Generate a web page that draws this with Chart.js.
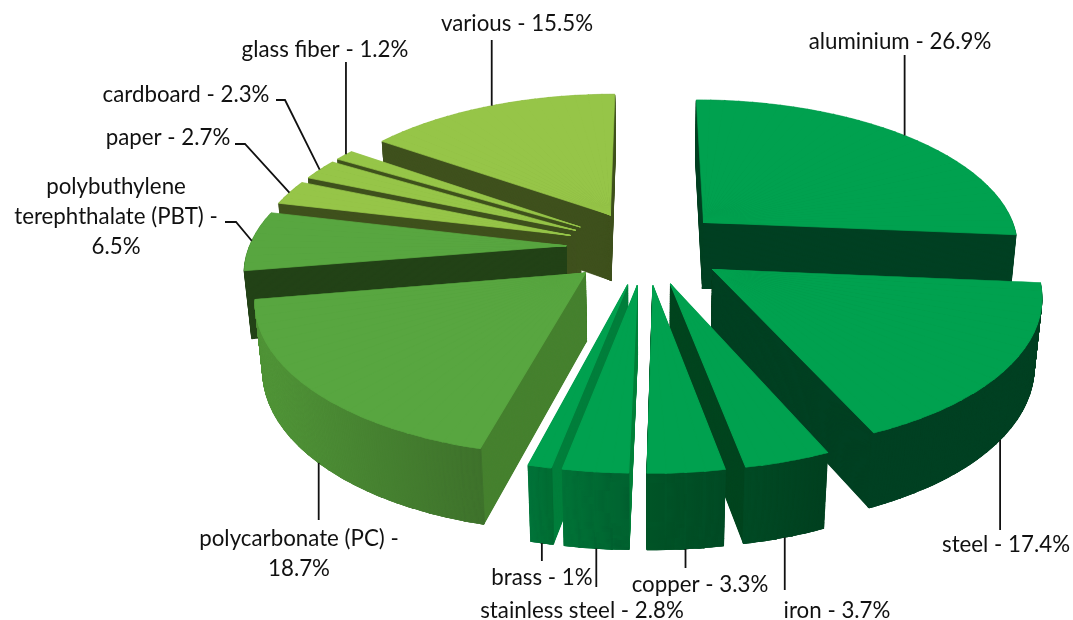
<!DOCTYPE html>
<html>
<head>
<meta charset="utf-8">
<style>
  html, body { margin: 0; padding: 0; background: #fff; }
  #wrap { width: 1073px; height: 620px; }
</style>
</head>
<body>
<div id="wrap"><canvas id="chart" width="1073" height="620"></canvas></div>
<script src="https://cdn.jsdelivr.net/npm/chart.js@4"></script>
<script>
const categories = ['aluminium', 'steel', 'iron', 'copper', 'stainless steel', 'brass', 'polycarbonate (PC)', 'polybuthylene terephthalate (PBT)', 'paper', 'cardboard', 'glass fiber', 'various'];
const shares = [26.9, 17.4, 3.7, 3.3, 2.8, 1, 18.7, 6.5, 2.7, 2.3, 1.2, 15.5];

const topColors = ['#00a14f', '#00a14f', '#00a14f', '#00a14f', '#00a14f', '#00a14f', '#58a640', '#58a640', '#96c548', '#96c548', '#96c548', '#96c548'];
const cutColors = ['#004022', '#004022', '#00451f', '#00451f', '#00803c', '#007f3c', '#46812f', '#234217', '#3f511d', '#3f511d', '#3f511d', '#3f511d'];
const rimLeft = ['#004022', '#004022', '#004b25', '#005829', '#006e35', '#007038', '#56a03c', '#234217', '#3f511d', '#3f511d', '#3f511d', '#3f511d'];
const rimRight = ['#004022', '#004022', '#003e1f', '#004b25', '#00592c', '#00672f', '#3c6e2a', '#234217', '#3f511d', '#3f511d', '#3f511d', '#3f511d'];

// label text lines, centre of the block, first line y
const labelLines = [
  ['aluminium - 26.9%'], ['steel - 17.4%'], ['iron - 3.7%'], ['copper - 3.3%'], ['stainless steel - 2.8%'], ['brass - 1%'],
  ['polycarbonate (PC) -', '18.7%'], ['polybuthylene', 'terephthalate (PBT) -', '6.5%'], ['paper - 2.7%'], ['cardboard - 2.3%'], ['glass fiber - 1.2%'], ['various - 15.5%']
];
const labelX = [900, 1006, 837, 700, 582, 542, 299, 116, 168, 186, 325, 517];
const labelY = [42, 545, 611, 585, 611, 578, 539, 187, 138, 95, 50, 24];
// leader lines start on the slice rim; a null x keeps them vertical
const leaderPaths = [
  [[null, 55]], [[null, 530]], [[null, 590]], [[null, 568]], [[null, 587]], [[null, 561]], [[null, 520]],
  [[236, 222], [225, 222]], [[245, 144], [235, 144]], [[285, 100], [276, 100]], [[null, 62]], [[null, 40]]
];
// where along the rim of its slice a leader starts
const leaderAt = [0.496, 0.5, 0.5, 0.5, 0.5, 0.5, 0.5, 0.5, 0.5, 0.5, 0.62, 0.51];

// camera that looks at the pie from above
const camera = { x: 646, y: 247, sin: 0.465, cos: 0.885, dist: 1900 };
const pieHeight = 77;
const pieRadius = 317;
const explode = 320; // chart.js moves a slice by offset / 4
const wedgeStep = 3 * Math.PI / 180;

function project(x, y, z) {
  const s = camera.dist / (camera.dist - (y * camera.cos + z * camera.sin));
  return { x: camera.x + x * s, y: camera.y + (y * camera.sin - z * camera.cos) * s };
}

// draws the part a1..a2 of one slice on the plane at height z
function drawWedge(ctx, arc, a1, a2, z, color, inner) {
  const mid = (arc.startAngle + arc.endAngle) / 2;
  const move = arc.options.offset / 4;
  const tipX = Math.cos(mid) * move;
  const tipY = Math.sin(mid) * move;
  const R = arc.outerRadius;
  const dx1 = Math.cos(a1) * R, dy1 = Math.sin(a1) * R;
  const dx2 = Math.cos(a2) * R, dy2 = Math.sin(a2) * R;
  const t0 = project(tipX, tipY, z);
  const t1 = project(tipX + dx1, tipY + dy1, z);
  const t2 = project(tipX + dx2, tipY + dy2, z);
  const det = dx1 * dy2 - dx2 * dy1;
  const ax = ((t1.x - t0.x) * dy2 - (t2.x - t0.x) * dy1) / det;
  const cx = ((t2.x - t0.x) * dx1 - (t1.x - t0.x) * dx2) / det;
  const bx = ((t1.y - t0.y) * dy2 - (t2.y - t0.y) * dy1) / det;
  const dx = ((t2.y - t0.y) * dx1 - (t1.y - t0.y) * dx2) / det;

  const piece = Object.create(arc);
  piece.startAngle = a1;
  piece.endAngle = a2;
  piece.circumference = a2 - a1;
  piece.innerRadius = inner;
  // the thin border closes the seams between neighbouring wedges
  piece.options = Object.assign({}, arc.options, { offset: 0, backgroundColor: color, borderColor: color, borderWidth: 1 });

  ctx.save();
  ctx.transform(ax, bx, cx, dx, t0.x - ax * arc.x - cx * arc.y, t0.y - bx * arc.x - dx * arc.y);
  piece.draw(ctx);
  ctx.restore();
}

function drawSliceLayer(ctx, arc, z, color, inner) {
  const steps = Math.max(1, Math.ceil((arc.endAngle - arc.startAngle) / wedgeStep));
  const width = (arc.endAngle - arc.startAngle) / steps;
  for (let i = 0; i < steps; i++) {
    const a1 = arc.startAngle + width * i;
    const a2 = Math.min(a1 + width + 0.004, arc.endAngle);
    drawWedge(ctx, arc, a1, a2, z, color, inner);
  }
}

function rimPoint(arc, at, z) {
  const mid = (arc.startAngle + arc.endAngle) / 2;
  const move = arc.options.offset / 4;
  const a = arc.startAngle + (arc.endAngle - arc.startAngle) * at;
  return project(Math.cos(mid) * move + Math.cos(a) * arc.outerRadius, Math.sin(mid) * move + Math.sin(a) * arc.outerRadius, z);
}

const pie3d = {
  id: 'pie3d',
  beforeDatasetsDraw(chart) {
    const ctx = chart.ctx;
    const arcs = chart.getDatasetMeta(0).data;
    const order = arcs.map((arc, i) => i).sort((a, b) => {
      return Math.sin((arcs[a].startAngle + arcs[a].endAngle) / 2) - Math.sin((arcs[b].startAngle + arcs[b].endAngle) / 2);
    });

    order.forEach((i) => {
      const arc = arcs[i];
      const R = arc.outerRadius;
      const xa = Math.cos(arc.startAngle) * R + arc.x;
      const xb = Math.cos(arc.endAngle) * R + arc.x;
      const rim = ctx.createLinearGradient(Math.min(xa, xb), 0, Math.max(xa, xb) + 1, 0);
      rim.addColorStop(0, rimLeft[i]);
      rim.addColorStop(1, rimRight[i]);
      for (let z = -pieHeight; z < 0; z += 1) {
        drawSliceLayer(ctx, arc, z, cutColors[i], 0);
        drawSliceLayer(ctx, arc, z, rim, R - 3);
      }
      drawSliceLayer(ctx, arc, 0, topColors[i], 0);
    });

    ctx.save();
    ctx.strokeStyle = '#111';
    ctx.lineWidth = 1.8;
    arcs.forEach((arc, i) => {
      const front = Math.sin((arc.startAngle + arc.endAngle) / 2) > 0;
      const start = rimPoint(arc, leaderAt[i], front ? -pieHeight : 0);
      ctx.beginPath();
      ctx.moveTo(start.x, start.y);
      leaderPaths[i].forEach(([x, y]) => ctx.lineTo(x === null ? start.x : x, y));
      ctx.stroke();
    });

    ctx.fillStyle = '#111';
    ctx.font = '22.3px Lato, Carlito, sans-serif';
    ctx.textAlign = 'center';
    ctx.textBaseline = 'middle';
    labelLines.forEach((lines, i) => {
      lines.forEach((line, n) => ctx.fillText(line, labelX[i], labelY[i] + n * 30));
    });
    ctx.restore();
    return false;
  }
};

new Chart(document.getElementById('chart'), {
  type: 'pie',
  data: {
    labels: categories,
    datasets: [{
      data: shares,
      backgroundColor: topColors,
      borderWidth: 0,
      offset: shares.map(() => explode)
    }]
  },
  options: {
    responsive: false,
    animation: false,
    radius: pieRadius,
    events: [],
    plugins: { legend: { display: false }, tooltip: { enabled: false } }
  },
  plugins: [pie3d]
});
</script>
</body>
</html>
